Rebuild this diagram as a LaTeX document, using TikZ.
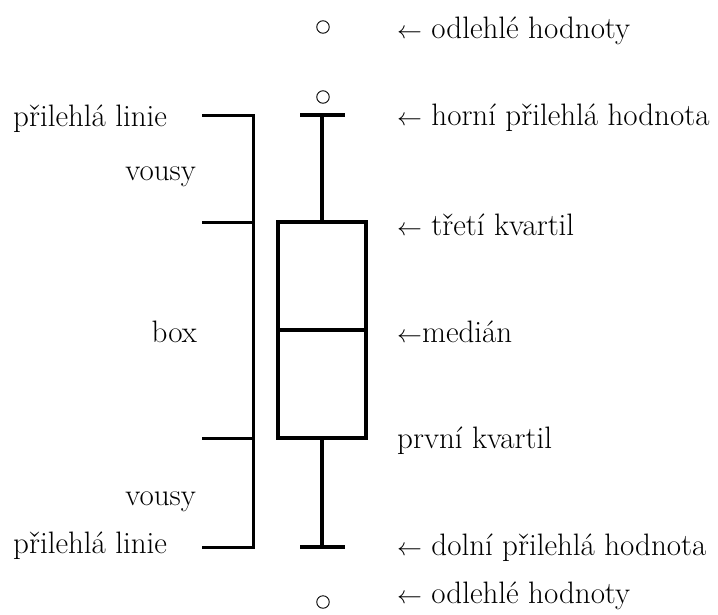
\documentclass[tikz,border=0pt]{standalone}
\usepackage{fontspec}
\begin{document}
\begin{tikzpicture}[x=1pt,y=-1pt,
  lbl/.style={inner sep=0pt,font=\fontsize{31}{37}\selectfont},
  rlbl/.style={lbl,anchor=base west},
  llbl/.style={lbl,anchor=base east},
  brk/.style={line width=3pt},
  boxline/.style={line width=3.6pt},
  whisk/.style={line width=3.3pt},
  outl/.style={circle,draw,line width=0.9pt,minimum size=12.5pt,inner sep=0pt}]
\useasboundingbox (0,0) rectangle (718,614);
% box plot structure
\coordinate (capT) at (322,115);
\coordinate (capB) at (322,547);
\node[boxline,draw,minimum width=88pt,minimum height=216pt,inner sep=0pt] (box) at (322,330) {};
\draw[whisk] (300,115) coordinate (capTL) -- (345,115) coordinate (capTR);
\draw[whisk] (capT) -- (box.north);
\draw[whisk] (box.south) -- (capB);
\draw[whisk] (300,547) coordinate (capBL) -- (345,547) coordinate (capBR);
\draw[line width=3.3pt] (box.west) -- (box.east);
% outliers
\node[outl] (o1) at (323,27) {};
\node[outl] (o2) at (323,97) {};
\node[outl] (o3) at (323,602) {};
% left bracket
\coordinate (bT) at (253,115);
\coordinate (bQ3) at (253,222);
\coordinate (bQ1) at (253,438);
\coordinate (bB) at (253,547);
\coordinate (tT) at (202,115);
\coordinate (tQ3) at (202,222);
\coordinate (tQ1) at (202,438);
\coordinate (tB) at (202,547);
\draw[brk] (tT) -- (bT) -- (bB) -- (tB);
\draw[brk] (tQ3) -- (bQ3);
\draw[brk] (tQ1) -- (bQ1);
% right labels
\node[rlbl] (t1) at (397,38) {$\leftarrow$ odlehlé hodnoty};
\node[rlbl] (t2) at (397,125) {$\leftarrow$ horní přilehlá hodnota};
\node[rlbl] (t3) at (397,235) {$\leftarrow$ třetí kvartil};
\node[rlbl] (t4) at (397,342) {$\leftarrow$medián};
\node[rlbl] (t5) at (397,448) {první kvartil};
\node[rlbl] (t6) at (397,555) {$\leftarrow$ dolní přilehlá hodnota};
\node[rlbl] (t7) at (397,603) {$\leftarrow$ odlehlé hodnoty};
% left labels
\node[lbl,anchor=base west] (l1) at (13,126) {přilehlá linie};
\node[llbl] (l2) at (196,180) {vousy};
\node[llbl] (l3) at (197,342) {box};
\node[llbl] (l4) at (196,505) {vousy};
\node[lbl,anchor=base west] (l5) at (13,553) {přilehlá linie};
\end{tikzpicture}
\end{document}
